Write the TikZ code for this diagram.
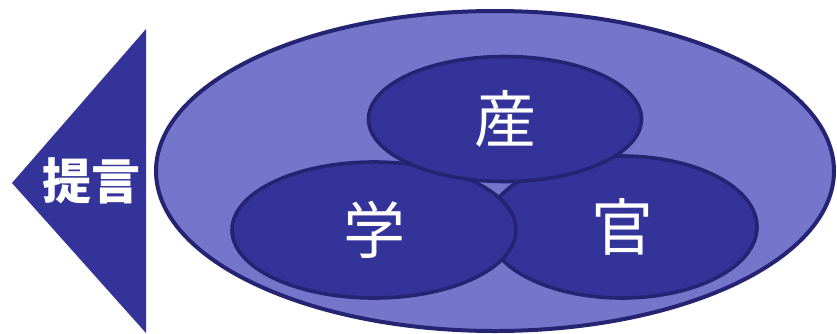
\documentclass[tikz,border=0pt]{standalone}
\usepackage{fontspec}
\usepackage{tikz}
\usetikzlibrary{shapes.geometric, positioning}
\newfontfamily\cjk{Noto Sans CJK JP}
\definecolor{sector}{HTML}{333399}
\definecolor{field}{HTML}{7575CC}
\definecolor{rim}{HTML}{242473}

\tikzset{
  sectorbox/.style={ellipse, draw=rim, line width=3.6pt, fill=sector, text=white,
    font=\cjk\fontsize{62}{62}\selectfont, inner sep=0pt},
}

\begin{document}
\begin{tikzpicture}[x=1pt, y=-1pt]
  \useasboundingbox (0,0) rectangle (837,333);

  % Proposal arrow
  \fill[sector] (12,183) -- (146,29) -- (146,333) -- cycle;
  \node[text=white, font=\cjk\bfseries\fontsize{49}{49}\selectfont] (proposal) at (91,181) {提言};

  % Field
  \node[ellipse, draw=rim, line width=4pt, fill=field, minimum width=678, minimum height=320] (field) at (495,171) {};

  % Sectors
  \node[sectorbox, minimum width=270, minimum height=142] (gov) at (622,227) {官};
  \node[sectorbox, minimum width=284, minimum height=136] (academia) at (374,230) {学};
  \node[sectorbox, minimum width=273, minimum height=125] (industry) at (505,119) {産};
\end{tikzpicture}
\end{document}
